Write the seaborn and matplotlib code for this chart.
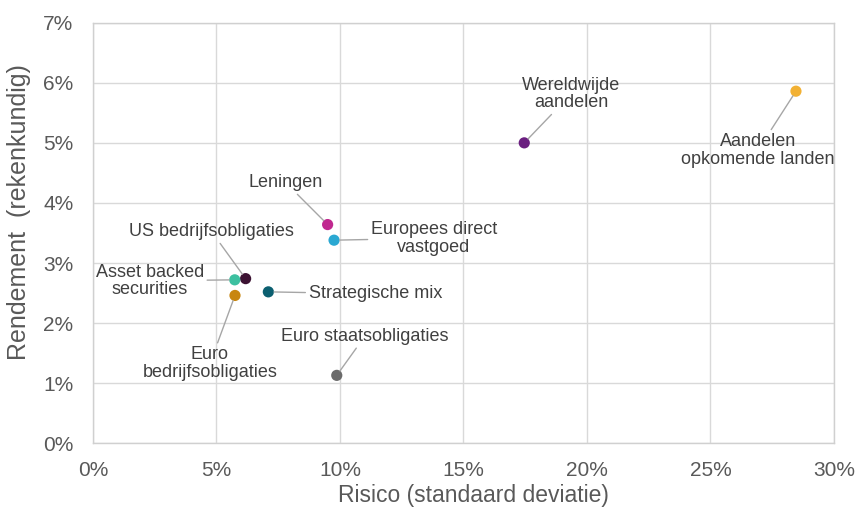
import matplotlib
matplotlib.use("Agg")
import matplotlib.pyplot as plt
import seaborn as sns
import pandas as pd
from matplotlib.ticker import FuncFormatter

# ---- data ----
categories = [
    "Leningen",
    "Europees direct\nvastgoed",
    "US bedrijfsobligaties",
    "Asset backed\nsecurities",
    "Euro\nbedrijfsobligaties",
    "Strategische mix",
    "Euro staatsobligaties",
    "Wereldwijde\naandelen",
    "Aandelen\nopkomende landen",
]
risk = [9.5, 9.76, 6.18, 5.74, 5.75, 7.1, 9.87, 17.46, 28.46]      # %
ret = [3.64, 3.38, 2.74, 2.72, 2.46, 2.52, 1.13, 5.00, 5.86]       # %
colors = ["#c0288f", "#2aa8d2", "#3c1232", "#3cc0a0", "#c8860f",
          "#0b5f70", "#6b6b6b", "#6b1f80", "#f2b134"]
# label offsets (pixels) from each point
offsets = [(-42, 42), (100, 2), (-34, 47), (-85, -1), (-25, -68),
           (107, -2), (28, 39), (47, 49), (-38, -59)]
x_ticks = [0, 5, 10, 15, 20, 25, 30]
y_ticks = [0, 1, 2, 3, 4, 5, 6, 7]

df = pd.DataFrame({"categorie": categories, "risico": risk, "rendement": ret})

sns.set_theme(style="white")
plt.rcParams["font.family"] = ["Liberation Sans", "DejaVu Sans"]

fig = plt.figure(figsize=(8.56, 5.16), dpi=100)
ax = fig.add_axes([0.1086, 0.141, 0.9743 - 0.1086, 0.956 - 0.141])

sns.scatterplot(data=df, x="risico", y="rendement", hue="categorie",
                palette=dict(zip(categories, colors)), s=65, linewidth=0,
                legend=False, ax=ax, zorder=3)

ax.set_xlim(0, 30)
ax.set_ylim(0, 7)
ax.set_xticks(x_ticks)
ax.set_yticks(y_ticks)
ax.xaxis.set_major_formatter(FuncFormatter(lambda v, p: f"{v:.0f}%"))
ax.yaxis.set_major_formatter(FuncFormatter(lambda v, p: f"{v:.0f}%"))
ax.grid(True, color="#d9d9d9", linewidth=1)
ax.set_axisbelow(True)
for sp in ax.spines.values():
    sp.set_color("#d0d0d0")
    sp.set_linewidth(1)
ax.tick_params(axis="both", length=0, labelsize=15, labelcolor="#595959")
ax.tick_params(axis="x", pad=13)
ax.tick_params(axis="y", pad=14)

ax.set_xlabel("Risico (standaard deviatie)", fontsize=16.5, color="#595959")
ax.set_ylabel("Rendement  (rekenkundig)", fontsize=18, color="#595959")
ax.xaxis.set_label_coords(0.514, -0.097)
ax.yaxis.set_label_coords(-0.083, 0.55)

for cat, xv, yv, (dx, dy) in zip(categories, risk, ret, offsets):
    ax.annotate(cat, xy=(xv, yv), xytext=(dx, dy), textcoords="offset pixels",
                ha="center", va="center", multialignment="center",
                fontsize=13, color="#404040", linespacing=1.05,
                arrowprops=dict(arrowstyle="-", color="#a6a6a6", lw=1,
                                shrinkA=0, shrinkB=4))

fig.savefig("out.png", dpi=100)
